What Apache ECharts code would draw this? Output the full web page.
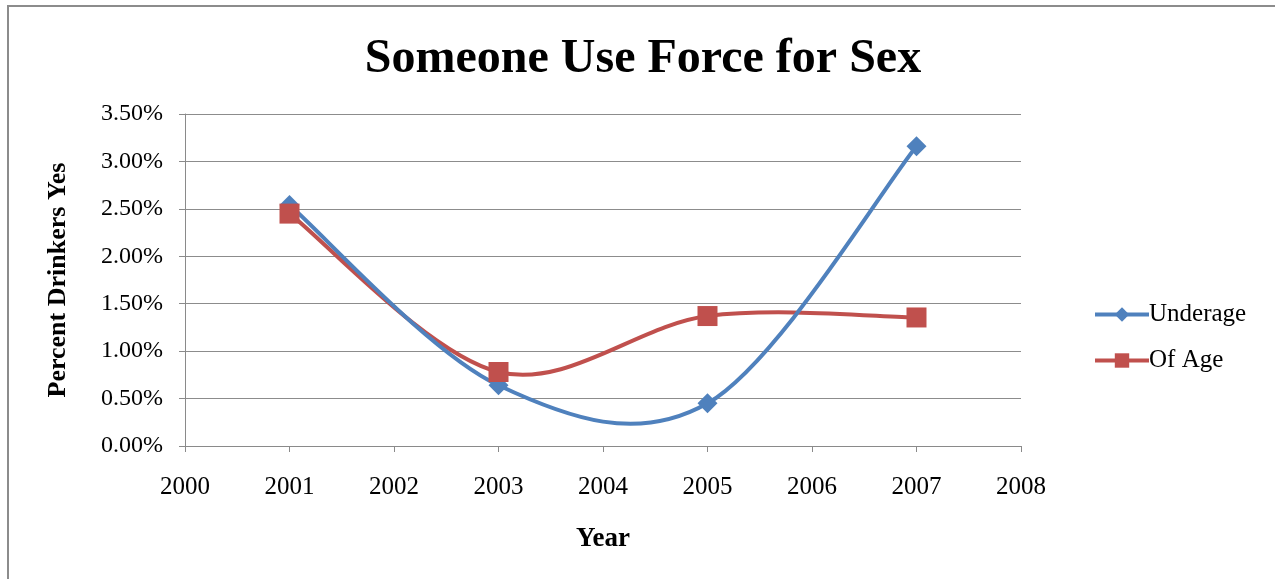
<!DOCTYPE html>
<html>
<head>
<meta charset="utf-8">
<script src="https://cdn.jsdelivr.net/npm/echarts@6/dist/echarts.min.js"></script>
<style>
  html, body { margin: 0; padding: 0; background: #fff; }
  #chart { width: 1275px; height: 579px; }
</style>
</head>
<body>
<div id="chart"></div>
<script>
// Survey years and share of drinkers answering "yes" (percent)
const years = [2001, 2003, 2005, 2007];
const underage = [2.54, 0.64, 0.45, 3.16];
const ofAge = [2.45, 0.78, 1.37, 1.355];
const xTicks = [2000, 2001, 2002, 2003, 2004, 2005, 2006, 2007, 2008];
const yTicks = [0, 0.5, 1, 1.5, 2, 2.5, 3, 3.5];

const serif = '"Liberation Serif", "Times New Roman", serif';
const BLUE = '#4F81BD';
const RED = '#C0504D';

// Spreadsheet-style smoothed line: each segment is a cubic Bezier whose
// control points follow the Catmull-Rom tangents of the neighbouring points.
function smoothSegment(values, color) {
  return function (params, api) {
    const i = params.dataIndex;
    const n = years.length;
    if (i >= n - 1) return null;
    const pt = k => api.coord([years[Math.max(0, Math.min(n - 1, k))], values[Math.max(0, Math.min(n - 1, k))]]);
    const p0 = pt(i - 1), p1 = pt(i), p2 = pt(i + 1), p3 = pt(i + 2);
    return {
      type: 'bezierCurve',
      shape: {
        x1: p1[0], y1: p1[1],
        cpx1: p1[0] + (p2[0] - p0[0]) / 6, cpy1: p1[1] + (p2[1] - p0[1]) / 6,
        cpx2: p2[0] - (p3[0] - p1[0]) / 6, cpy2: p2[1] - (p3[1] - p1[1]) / 6,
        x2: p2[0], y2: p2[1]
      },
      style: { stroke: color, lineWidth: 4, fill: 'none', lineCap: 'round' }
    };
  };
}

const chart = echarts.init(document.getElementById('chart'));

chart.setOption({
  animation: false,
  backgroundColor: '#fff',
  title: {
    text: 'Someone Use Force for Sex',
    left: 638, top: 31, textAlign: 'center',
    textStyle: { fontFamily: serif, fontSize: 48, fontWeight: 'bold', color: '#000' }
  },
  graphic: [{
    // chart frame: only its top and left edges fall inside the page
    type: 'rect',
    shape: { x: 8, y: 6, width: 1300, height: 600 },
    style: { fill: 'none', stroke: '#8c8c8c', lineWidth: 2 },
    silent: true
  }],
  legend: {
    orient: 'vertical',
    left: 1088, top: 297,
    itemWidth: 54, itemHeight: 18, itemGap: 21,
    lineStyle: { opacity: 1, width: 4 },
    textStyle: { fontFamily: serif, fontSize: 25, color: '#000', padding: [0, 0, 0, -5] },
    data: ['Underage', 'Of Age']
  },
  grid: { left: 185, right: 254, top: 114, bottom: 133 },
  xAxis: {
    type: 'value', min: 2000, max: 2008, interval: 1,
    name: 'Year', nameLocation: 'middle', nameGap: 80,
    nameTextStyle: { fontFamily: serif, fontSize: 27, fontWeight: 'bold', color: '#000' },
    axisLine: { show: true, lineStyle: { color: '#8a8a8a', width: 1 } },
    axisTick: { show: true, length: 6, lineStyle: { color: '#8a8a8a' } },
    axisLabel: { fontFamily: serif, fontSize: 25, color: '#000', margin: 29,
      formatter: v => xTicks.includes(v) ? String(v) : '' },
    splitLine: { show: false }
  },
  yAxis: {
    type: 'value', min: 0, max: 3.5, interval: 0.5,
    name: 'Percent Drinkers Yes', nameLocation: 'middle', nameGap: 114,
    nameTextStyle: { fontFamily: serif, fontSize: 26, fontWeight: 'bold', color: '#000' },
    axisLine: { show: true, lineStyle: { color: '#8a8a8a', width: 1 } },
    axisTick: { show: true, inside: false, length: 6, lineStyle: { color: '#8a8a8a' } },
    axisLabel: { fontFamily: serif, fontSize: 24, color: '#000', margin: 22,
      formatter: v => yTicks.includes(v) ? v.toFixed(2) + '%' : '' },
    splitLine: { show: true, lineStyle: { color: '#8c8c8c', width: 1 } }
  },
  series: [
    {
      name: 'Underage', type: 'line',
      data: years.map((y, i) => [y, underage[i]]),
      symbol: 'diamond', symbolSize: 20,
      lineStyle: { color: BLUE, width: 4, opacity: 0 },
      itemStyle: { color: BLUE },
      z: 4
    },
    {
      name: 'Of Age', type: 'line',
      data: years.map((y, i) => [y, ofAge[i]]),
      symbol: 'rect', symbolSize: 20,
      lineStyle: { color: RED, width: 4, opacity: 0 },
      itemStyle: { color: RED },
      z: 5
    },
    {
      name: 'Of Age', type: 'custom',
      data: years.map((y, i) => [y, ofAge[i]]),
      renderItem: smoothSegment(ofAge, RED),
      silent: true, z: 2
    },
    {
      name: 'Underage', type: 'custom',
      data: years.map((y, i) => [y, underage[i]]),
      renderItem: smoothSegment(underage, BLUE),
      silent: true, z: 3
    }
  ]
});
</script>
</body>
</html>
